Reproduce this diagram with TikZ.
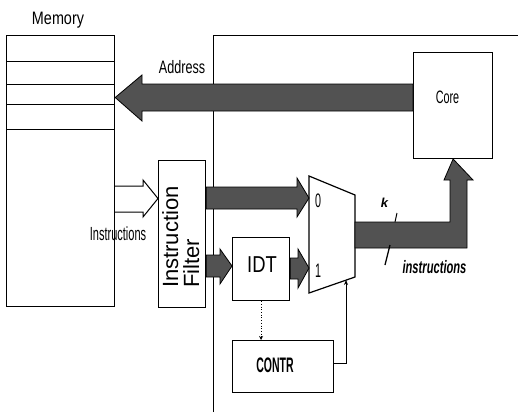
\documentclass[tikz,border=0pt]{standalone}
\usepackage{fontspec}
\setmainfont{Liberation Sans}
\usetikzlibrary{arrows.meta}
\definecolor{fatgray}{gray}{0.32}
\newcommand\lbl[3]{\scalebox{#2}[1]{\fontsize{#1}{#1}\selectfont #3}}
\tikzset{
  box/.style={draw, line width=1.2pt, fill=white, inner sep=0pt, anchor=north west},
  fatarrow/.style={fill=fatgray, draw=black, line width=0.8pt, line join=miter},
  hollowarrow/.style={fill=white, draw=black, line width=1pt},
  wire/.style={line width=0.9pt},
  txt/.style={inner sep=0pt, anchor=base},
}
\begin{document}
\begin{tikzpicture}[x=1pt,y=-1pt]
\useasboundingbox (0,0) rectangle (518,412);
% chip boundary
\draw[wire] (213,412) -- (213,35) -- (518,35);
% memory
\node[box, minimum width=108pt, minimum height=271pt] (mem) at (6,35) {};
\foreach \yy in {61,84,104,129}
  \draw[line width=1pt] (mem.west |- 0,\yy) -- (mem.east |- 0,\yy);
\node[txt] (memlbl) at (58,25) {\lbl{18}{0.8}{Memory}};
% core
\node[box, minimum width=79pt, minimum height=106pt] (core) at (413,52) {};
\node[txt] (corelbl) at (447.5,103) {\lbl{18}{0.6}{Core}};
% address arrow
\fill[fatarrow] (core.west |- 0,84) -- (142,84) -- (142,75) -- (mem.east |- 0,97.5) -- (142,121) -- (142,111) -- (core.west |- 0,111) -- cycle;
\node[txt] (addr) at (182,73) {\lbl{18}{0.7}{Address}};
% instruction filter
\node[box, minimum width=47pt, minimum height=147pt] (filt) at (158,160) {};
\node[inner sep=0pt, rotate=90, anchor=base west] (filt1) at (178,288) {\fontsize{22}{22}\selectfont Instruction};
\node[inner sep=0pt, rotate=90, anchor=base west] (filt2) at (199,288) {\fontsize{22}{22}\selectfont Filter};
% hollow arrow memory -> filter
\draw[hollowarrow] (mem.east |- 0,186) -- (143,186) -- (143,180) -- (filt.west |- 0,198.5) -- (143,217) -- (143,212) -- (mem.east |- 0,212);
\node[txt] (instr) at (118,240) {\lbl{19}{0.58}{Instructions}};
% IDT and CONTR
\node[box, minimum width=57pt, minimum height=63pt] (idt) at (232,237) {};
\node[txt] (idtlbl) at (262,272) {\lbl{23}{0.8}{IDT}};
\node[box, minimum width=101pt, minimum height=52pt] (contr) at (232,340) {};
\node[txt] (contrlbl) at (275,372) {\lbl{21}{0.5}{\bfseries CONTR}};
% mux
\draw[line width=1.2pt, fill=white] (309,176) coordinate (muxtl) -- (355,195) coordinate (muxtr) -- (355,277) coordinate (muxbr) -- (309,293) coordinate (muxbl) -- cycle;
\coordinate (muxctl) at (346,280);
\node[txt] (in0) at (318,207) {\lbl{19.5}{0.55}{0}};
\node[txt] (in1) at (318,277) {\lbl{19.5}{0.55}{1}};
% filter -> mux 0
\fill[fatarrow] (filt.east |- 0,187) -- (297,187) -- (297,178) -- (muxtl |- 0,198) -- (297,217) -- (297,209) -- (filt.east |- 0,209) -- cycle;
% filter -> IDT
\fill[fatarrow] (filt.east |- 0,255) -- (220,255) -- (220,249) -- (idt.west |- 0,266) -- (220,284) -- (220,277) -- (filt.east |- 0,277) -- cycle;
% IDT -> mux 1
\fill[fatarrow] (idt.east |- 0,258) -- (298,258) -- (298,249) -- (muxtl |- 0,268) -- (298,288) -- (298,279) -- (idt.east |- 0,279) -- cycle;
% IDT -> CONTR dotted
\draw[line width=0.7pt, dotted, -{Stealth[length=4pt,width=4pt]}] (idt.south) -- (idt.south |- contr.north);
% CONTR -> mux select
\draw[wire, -{Stealth[length=5pt,width=4pt]}] ([yshift=3pt]contr.east) -| (muxctl);
% output arrow mux -> core
\fill[fatarrow] (muxtr |- 0,222) -- (450,222) -- (450,180) -- (444,180) -- (core.south |- 0,159) -- (473,180) -- (467,180) -- (467,248) -- (muxtr |- 0,248) -- cycle;
% bus labels
\node[txt] (k) at (384.5,207) {\fontsize{13}{13}\selectfont\bfseries\itshape k};
\draw[line width=1pt] (395,222) -- (397,213);
\draw[line width=1.3pt] (385,265) -- (390,245);
\node[txt] (instrout) at (434.5,273) {\lbl{18}{0.62}{\bfseries\itshape instructions}};
\end{tikzpicture}
\end{document}
